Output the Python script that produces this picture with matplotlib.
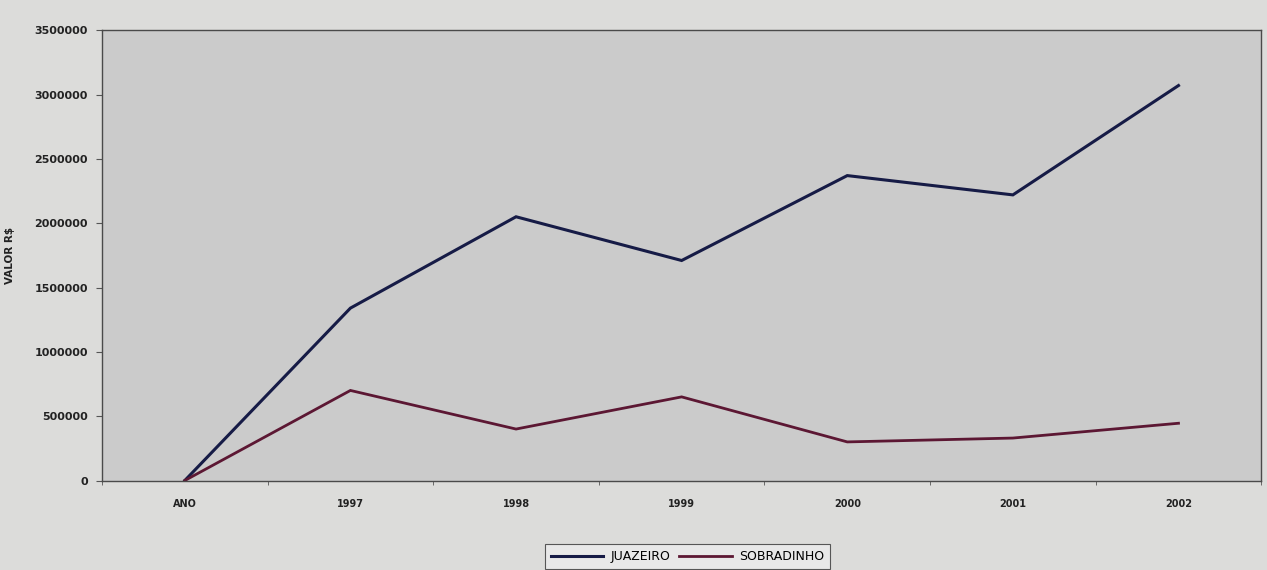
import numpy as np
import matplotlib
matplotlib.use("Agg")
import matplotlib.pyplot as plt

# --- data ---
categorias = ["ANO", "1997", "1998", "1999", "2000", "2001", "2002"]
juazeiro = [0, 1340000, 2050000, 1710000, 2370000, 2220000, 3070000]
sobradinho = [0, 700000, 400000, 650000, 300000, 330000, 445000]
y_ticks = [0, 500000, 1000000, 1500000, 2000000, 2500000, 3000000, 3500000]

plt.rcParams['font.family'] = ['DejaVu Sans']

fig = plt.figure(figsize=(12.67, 5.70), dpi=100)
fig.patch.set_facecolor('#dcdcda')
ax = fig.add_axes([0.0805, 0.157, 0.915, 0.79])
ax.set_facecolor('#cbcbcb')

x = np.arange(len(categorias))
ax.plot(x, juazeiro, color='#161b46', linewidth=2.2, label='JUAZEIRO', solid_joinstyle='miter')
ax.plot(x, sobradinho, color='#5c1733', linewidth=2.0, label='SOBRADINHO', solid_joinstyle='miter')

ax.set_xlim(-0.5, len(categorias) - 0.5)
ax.set_ylim(0, 3500000)

# category labels centered, tick marks between categories
ax.set_xticks(x)
ax.set_xticklabels(categorias, fontsize=7, fontweight='bold', color='#222222')
ax.tick_params(axis='x', which='major', length=0, pad=13)
ax.set_xticks(np.arange(-0.5, len(categorias) + 0.5, 1), minor=True)
ax.tick_params(axis='x', which='minor', length=3, color='#555555')

ax.set_yticks(y_ticks)
ax.set_yticklabels([str(v) for v in y_ticks], fontsize=8, fontweight='bold', color='#222222')
ax.tick_params(axis='y', length=4, color='#555555', pad=6)
ax.set_ylabel('VALOR R$', fontsize=7.5, fontweight='bold', color='#222222', labelpad=14)

for s in ax.spines.values():
    s.set_color('#4a4a4a')
    s.set_linewidth(1.0)

leg = fig.legend(loc='upper center', bbox_to_anchor=(0.5426, 0.056), ncol=2,
                 fontsize=9, frameon=True, fancybox=False, handlelength=4.2,
                 columnspacing=0.7, handletextpad=0.6, borderpad=0.45)
leg.get_frame().set_edgecolor('#333333')
leg.get_frame().set_facecolor('#ececec')
leg.get_frame().set_linewidth(0.8)

fig.savefig('out.png', dpi=100, facecolor=fig.get_facecolor())
